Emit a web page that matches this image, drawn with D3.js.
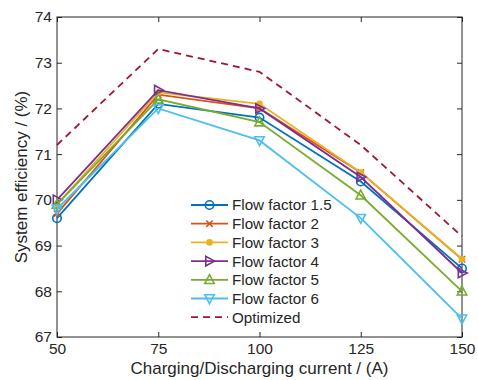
<!DOCTYPE html>
<html>
<head>
<meta charset="utf-8">
<script src="https://cdn.jsdelivr.net/npm/d3@7"></script>
<style>
  body { margin: 0; background: #fff; }
  text { font-family: "Liberation Sans", Arial, sans-serif; fill: #262626; }
</style>
</head>
<body>
<script>
const width = 478;
const height = 380;

// Data
const currents = [50, 75, 100, 125, 150];
const flow15 = [69.6, 72.1, 71.8, 70.4, 68.5];
const flow2  = [69.7, 72.3, 72.0, 70.6, 68.7];
const flow3  = [69.9, 72.35, 72.1, 70.6, 68.7];
const flow4  = [70.0, 72.4, 72.0, 70.5, 68.4];
const flow5  = [69.9, 72.2, 71.7, 70.1, 68.0];
const flow6  = [69.8, 72.0, 71.3, 69.6, 67.4];
const optimized = [71.2, 73.3, 72.8, 71.2, 69.2];
const xTicks = [50, 75, 100, 125, 150];
const yTicks = [67, 68, 69, 70, 71, 72, 73, 74];

const series = [
  { name: "Flow factor 1.5", values: flow15, color: "#0072BD", marker: "circle" },
  { name: "Flow factor 2",   values: flow2,  color: "#D95319", marker: "cross" },
  { name: "Flow factor 3",   values: flow3,  color: "#EDB120", marker: "dot" },
  { name: "Flow factor 4",   values: flow4,  color: "#7E2F8E", marker: "right" },
  { name: "Flow factor 5",   values: flow5,  color: "#77AC30", marker: "up" },
  { name: "Flow factor 6",   values: flow6,  color: "#4DBEEE", marker: "down" },
  { name: "Optimized",       values: optimized, color: "#A2142F", marker: null, dashed: true }
];

const margin = { top: 17, right: 16, bottom: 43, left: 57 };
const innerW = width - margin.left - margin.right;
const innerH = height - margin.top - margin.bottom;

const svg = d3.select("body").append("svg")
  .attr("width", width)
  .attr("height", height);

const g = svg.append("g").attr("transform", `translate(${margin.left},${margin.top})`);

const x = d3.scaleLinear().domain([50, 150]).range([0, innerW]);
const y = d3.scaleLinear().domain([67, 74]).range([innerH, 0]);

// axes (ticks pointing inward, mirrored on top/right)
const axisStyle = sel => {
  sel.select(".domain").remove();
  sel.selectAll("line").attr("stroke", "#262626");
  sel.selectAll("text").style("font-size", "15.5px").attr("fill", "#262626");
};

g.append("g").attr("transform", `translate(0,${innerH})`)
  .call(d3.axisBottom(x).tickValues(xTicks).tickSizeInner(-5).tickSizeOuter(0).tickPadding(6).tickFormat(d3.format("d")))
  .call(axisStyle);
g.append("g")
  .call(d3.axisTop(x).tickValues(xTicks).tickSizeInner(-5).tickSizeOuter(0).tickFormat(""))
  .call(axisStyle);
g.append("g")
  .call(d3.axisLeft(y).tickValues(yTicks).tickSizeInner(-5).tickSizeOuter(0).tickPadding(5).tickFormat(d3.format("d")))
  .call(axisStyle);
g.append("g").attr("transform", `translate(${innerW},0)`)
  .call(d3.axisRight(y).tickValues(yTicks).tickSizeInner(-5).tickSizeOuter(0).tickFormat(""))
  .call(axisStyle);

g.append("rect")
  .attr("width", innerW).attr("height", innerH)
  .attr("fill", "none").attr("stroke", "#262626").attr("stroke-width", 1);

// marker drawing
function drawMarker(sel, type, color) {
  const s = 4.2;
  if (type === "circle") {
    sel.append("circle").attr("r", s).attr("fill", "none").attr("stroke", color).attr("stroke-width", 1.6);
  } else if (type === "cross") {
    sel.append("path").attr("d", `M${-s + 1},${-s + 1}L${s - 1},${s - 1}M${-s + 1},${s - 1}L${s - 1},${-s + 1}`)
      .attr("stroke", color).attr("stroke-width", 1.6);
  } else if (type === "dot") {
    sel.append("circle").attr("r", 3.3).attr("fill", color);
  } else if (type === "right") {
    sel.append("path").attr("d", `M${s + 1},0L${-s + 0.5},${-s - 0.5}L${-s + 0.5},${s + 0.5}Z`)
      .attr("fill", "none").attr("stroke", color).attr("stroke-width", 1.6);
  } else if (type === "up") {
    sel.append("path").attr("d", `M0,${-s - 1}L${s + 0.5},${s - 0.5}L${-s - 0.5},${s - 0.5}Z`)
      .attr("fill", "none").attr("stroke", color).attr("stroke-width", 1.6);
  } else if (type === "down") {
    sel.append("path").attr("d", `M0,${s + 1}L${s + 0.5},${-s + 0.5}L${-s - 0.5},${-s + 0.5}Z`)
      .attr("fill", "none").attr("stroke", color).attr("stroke-width", 1.6);
  }
}

const line = d3.line().x((d, i) => x(currents[i])).y(d => y(d));

const plot = g.append("g");
series.forEach(s => {
  plot.append("path")
    .datum(s.values)
    .attr("d", line)
    .attr("fill", "none")
    .attr("stroke", s.color)
    .attr("stroke-width", 1.8)
    .attr("stroke-dasharray", s.dashed ? "7,5" : null);
  if (s.marker) {
    s.values.forEach((v, i) => {
      const m = plot.append("g").attr("transform", `translate(${x(currents[i])},${y(v)})`);
      drawMarker(m, s.marker, s.color);
    });
  }
});

// legend
const legend = svg.append("g").attr("transform", "translate(191,205)");
series.forEach((s, i) => {
  const row = legend.append("g").attr("transform", `translate(0,${i * 18.7})`);
  row.append("line")
    .attr("x1", 0).attr("x2", 37)
    .attr("stroke", s.color).attr("stroke-width", 1.8)
    .attr("stroke-dasharray", s.dashed ? "7,5" : null);
  if (s.marker) {
    const m = row.append("g").attr("transform", "translate(18.5,0)");
    drawMarker(m, s.marker, s.color);
  }
  row.append("text")
    .attr("x", 41).attr("y", 0).attr("dy", "0.36em")
    .style("font-size", "15.2px")
    .text(s.name);
});

// axis labels
svg.append("text")
  .attr("x", margin.left + innerW / 2).attr("y", 374)
  .attr("text-anchor", "middle")
  .style("font-size", "17px")
  .text("Charging/Discharging current / (A)");

svg.append("text")
  .attr("transform", `translate(27,${margin.top + innerH / 2}) rotate(-90)`)
  .attr("text-anchor", "middle")
  .style("font-size", "17px")
  .text("System efficiency / (%)");
</script>
</body>
</html>
